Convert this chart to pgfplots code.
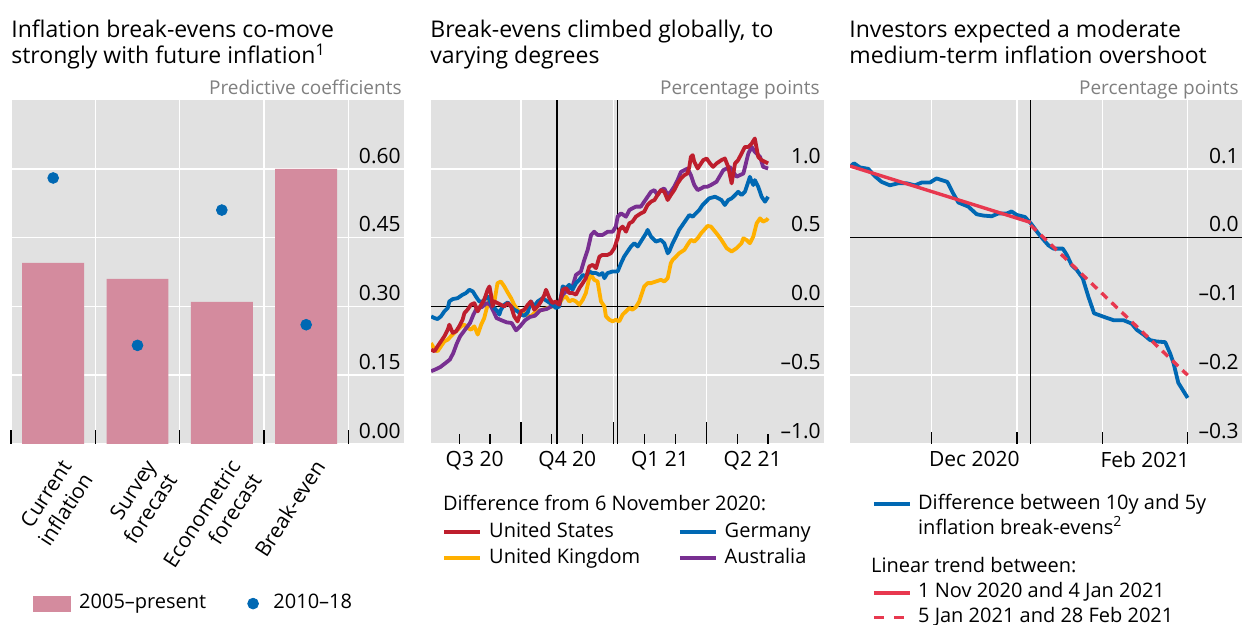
\documentclass[border=0pt]{standalone}
\usepackage{fontspec}
\setmainfont{Open Sans}
\usepackage{pgfplots}
\pgfplotsset{compat=1.18}

\definecolor{bggray}{HTML}{E1E1E1}
\definecolor{unitgray}{HTML}{808080}
\definecolor{barpink}{HTML}{D48B9E}
\definecolor{bisblue}{HTML}{0068B3}
\definecolor{bisred}{HTML}{BE1E2D}
\definecolor{bisyellow}{HTML}{FFB000}
\definecolor{bispurple}{HTML}{782F91}
\definecolor{trendred}{HTML}{E8384F}

\newcommand\titlefont{\fontsize{11.5}{13.8}\selectfont}
\newcommand\tickfont{\fontsize{10.5}{12.6}\selectfont}
\newcommand\legfont{\fontsize{10}{12}\selectfont}
\newcommand\unitfont{\fontsize{9.5}{11.4}\selectfont}

\pgfplotsset{
  panel/.style={
    scale only axis, height=172pt,
    anchor=north west,
    axis background/.style={fill=bggray},
    axis line style={draw=none},
    tick align=inside,
    xtick pos=bottom,
    yticklabel pos=right,
    ytick style={draw=none},
    tick style={black, line width=0.6pt},
    major grid style={white, line width=0.8pt},
    minor grid style={white, line width=0.8pt},
    ymajorgrids=true,
    yticklabel style={anchor=south east, inner sep=0pt, xshift=-1.5pt, yshift=2.5pt, font=\tickfont},
    xticklabel style={font=\tickfont},
    legend cell align=left,
    legend image code/.code={\draw[#1, line width=1.9pt] (0pt,0pt) -- (18pt,0pt);},
  },
}

\begin{document}
\begin{tikzpicture}
\useasboundingbox (0,0) rectangle (621.5pt,-312.5pt);

% titles
\node[anchor=base west, inner sep=0pt, font=\titlefont] at (5.5pt,-18.8pt) {Inflation break-evens co-move};
\node[anchor=base west, inner sep=0pt, font=\titlefont] at (5.5pt,-31.9pt) {strongly with future inflation\textsuperscript{1}};
\node[anchor=base west, inner sep=0pt, font=\titlefont] at (215pt,-18.8pt) {Break-evens climbed globally, to};
\node[anchor=base west, inner sep=0pt, font=\titlefont] at (215pt,-31.9pt) {varying degrees};
\node[anchor=base west, inner sep=0pt, font=\titlefont] at (424.5pt,-18.8pt) {Investors expected a moderate};
\node[anchor=base west, inner sep=0pt, font=\titlefont] at (424.5pt,-31.9pt) {medium-term inflation overshoot};
\node[anchor=base east, inner sep=0pt, font=\unitfont, text=unitgray] at (201pt,-47.5pt) {Predictive coefficients};
\node[anchor=base east, inner sep=0pt, font=\unitfont, text=unitgray] at (410pt,-47.5pt) {Percentage points};
\node[anchor=base east, inner sep=0pt, font=\unitfont, text=unitgray] at (619.5pt,-47.5pt) {Percentage points};

% panel 1
\begin{axis}[panel, at={(5.5pt,-50pt)}, width=196.5pt,
  xmin=-0.5, xmax=4.16, ymin=0, ymax=0.75,
  ytick={0,0.15,0.3,0.45,0.6}, yticklabels={0.00,0.15,0.30,0.45,0.60},
  xtick={0,1,2,3},
  xticklabels={Current\\inflation,Survey\\forecast,Econometric\\forecast,Break-even},
  major tick length=0pt, minor tick length=7pt,
  minor xtick={-0.5,0.5,1.5,2.5,3.5},
  xmajorgrids=false, xminorgrids=true,
  xticklabel style={rotate=57, anchor=north east, align=right, xshift=-0.5pt, yshift=-3pt},
  legend columns=2,
  legend style={draw=none, fill=none, inner sep=0pt, at={(0.056,-0.464)}, anchor=west,
    font=\legfont, nodes={inner sep=1.5pt, text height=7.5pt, text depth=2.5pt},
    /tikz/every odd column/.append style={column sep=2.5pt},
    /tikz/every even column/.append style={column sep=19pt}},
]
\addplot[ybar, bar width=0.735, fill=barpink, draw=none, forget plot] coordinates {(0,0.395)(1,0.36)(2,0.31)(3,0.60)};
\addplot[only marks, mark=*, mark size=2.7pt, color=bisblue, forget plot] coordinates {(0,0.58)(1,0.215)(2,0.51)(3,0.26)};
\addlegendimage{legend image code/.code={\fill[barpink] (0pt,-3.75pt) rectangle (18.5pt,3.75pt);}}
\addlegendentry{2005–present}
\addlegendimage{legend image code/.code={\fill[bisblue] (0pt,0pt) circle (2.7pt); \path (6pt,0pt);}}
\addlegendentry{2010–18}
\end{axis}

% panel 2
\begin{axis}[panel, at={(215.5pt,-50pt)}, width=196.5pt,
  xmin=0.087, xmax=12.81, ymin=-1, ymax=1.5,
  ytick={-1,-0.5,0,0.5,1}, yticklabels={–1.0,–0.5,0.0,0.5,1.0},
  xtick={3,6,9}, xticklabels={,,},
  major tick length=11pt, minor tick length=5pt,
  minor xtick={1,2,4,5,7,8,10,11},
  xmajorgrids=true,
  extra x ticks={1.5,4.5,7.5,10.5},
  extra x tick labels={Q3 20,Q4 20,Q1 21,Q2 21},
  extra x tick style={grid=none, major tick length=0pt},
  legend columns=2,
  legend style={draw=none, fill=none, inner sep=0pt, at={(0.028,-0.218)}, anchor=north west,
    font=\legfont, nodes={inner sep=1.5pt, text height=7.5pt, text depth=2.5pt},
    /tikz/every odd column/.append style={column sep=2pt},
    /tikz/every even column/.append style={column sep=17.3pt}},
]
\draw[black, line width=0.7pt] (axis cs:0.087,0) -- (axis cs:12.81,0);
\draw[black, line width=0.7pt] (axis cs:4.17,-1) -- (axis cs:4.17,1.5);
\draw[black, line width=0.7pt] (axis cs:6.13,-1) -- (axis cs:6.13,1.5);
% United Kingdom
\addplot[bisyellow, line width=1.9pt, line join=round, forget plot] coordinates {
(0.09,-0.266)(0.20,-0.314)(0.30,-0.326)(0.41,-0.290)(0.52,-0.254)(0.63,-0.242)(0.73,-0.217)(0.84,-0.193)
(0.95,-0.169)(1.06,-0.145)(1.17,-0.133)(1.27,-0.157)(1.38,-0.169)(1.49,-0.145)(1.60,-0.205)(1.71,-0.133)
(1.81,-0.085)(1.92,0.012)(2.03,0.072)(2.14,0.036)(2.24,0.169)(2.35,0.181)(2.46,0.145)(2.57,0.101)
(2.68,0.060)(2.78,0.012)(2.89,-0.024)(3.00,-0.043)(3.11,-0.048)(3.22,-0.068)(3.32,-0.072)(3.43,-0.048)
(3.54,-0.036)(3.70,-0.024)(3.86,-0.012)(4.02,0.000)(4.19,0.000)(4.35,0.060)(4.46,0.072)(4.56,0.036)
(4.67,0.048)(4.78,0.036)(4.89,0.012)(5.00,0.048)(5.10,0.097)(5.21,0.205)(5.27,0.229)(5.37,0.193)
(5.48,0.181)(5.59,0.036)(5.70,0.000)(5.75,-0.072)(5.86,-0.097)(5.97,-0.109)(6.07,-0.097)(6.18,-0.109)
(6.29,-0.060)(6.40,-0.036)(6.51,-0.012)(6.61,-0.024)(6.72,-0.005)(6.83,0.036)(6.88,0.072)(6.99,0.145)
(7.10,0.169)(7.21,0.169)(7.37,0.181)(7.53,0.193)(7.64,0.181)(7.75,0.205)(7.85,0.314)(7.91,0.338)
(8.02,0.362)(8.12,0.386)(8.29,0.411)(8.39,0.447)(8.50,0.483)(8.61,0.471)(8.72,0.495)(8.83,0.531)
(8.93,0.556)(9.04,0.585)(9.15,0.580)(9.33,0.531)(9.49,0.483)(9.66,0.423)(9.82,0.399)(9.98,0.423)
(10.14,0.459)(10.20,0.495)(10.30,0.483)(10.41,0.459)(10.52,0.507)(10.63,0.604)(10.74,0.640)(10.84,0.616)
(10.95,0.628)(11.00,0.640)};
% Australia
\addplot[bispurple, line width=1.9pt, line join=round, forget plot] coordinates {
(0.09,-0.471)(0.22,-0.459)(0.38,-0.442)(0.54,-0.415)(0.70,-0.386)(0.81,-0.338)(0.92,-0.271)(1.03,-0.217)
(1.19,-0.169)(1.35,-0.121)(1.46,-0.060)(1.57,-0.012)(1.73,-0.005)(1.89,0.024)(2.00,0.012)(2.11,-0.036)
(2.21,-0.085)(2.37,-0.101)(2.54,-0.116)(2.70,-0.121)(2.84,-0.174)(2.97,-0.145)(3.13,-0.101)(3.29,-0.077)
(3.45,-0.068)(3.62,-0.029)(3.83,-0.019)(4.03,0.005)(4.19,0.000)(4.35,0.085)(4.51,0.121)(4.67,0.145)
(4.78,0.229)(4.94,0.254)(5.05,0.338)(5.16,0.411)(5.27,0.519)(5.37,0.543)(5.48,0.519)(5.64,0.519)
(5.81,0.543)(5.97,0.543)(6.07,0.580)(6.13,0.652)(6.24,0.676)(6.40,0.652)(6.51,0.700)(6.61,0.713)
(6.72,0.725)(6.88,0.725)(6.99,0.761)(7.10,0.797)(7.21,0.833)(7.32,0.845)(7.42,0.809)(7.53,0.845)
(7.64,0.857)(7.75,0.809)(7.85,0.833)(7.96,0.870)(8.07,0.918)(8.18,0.978)(8.29,0.990)(8.39,1.002)
(8.50,0.954)(8.61,0.882)(8.72,0.845)(8.83,0.857)(8.93,0.870)(9.04,0.870)(9.15,0.882)(9.33,0.906)
(9.55,0.990)(9.76,1.014)(9.98,0.942)(10.20,0.966)(10.36,1.111)(10.47,1.159)(10.57,1.123)(10.74,1.087)
(10.84,1.014)(11.00,1.002)};
% Germany
\addplot[bisblue, line width=1.9pt, line join=round, forget plot] coordinates {
(0.09,-0.072)(0.20,-0.085)(0.30,-0.092)(0.41,-0.072)(0.52,-0.036)(0.63,-0.012)(0.68,0.036)(0.79,0.053)
(0.95,0.060)(1.11,0.085)(1.22,0.097)(1.33,0.121)(1.44,0.109)(1.54,0.072)(1.65,0.036)(1.76,0.036)
(1.87,0.060)(1.92,0.072)(2.03,0.024)(2.14,-0.012)(2.24,-0.036)(2.30,-0.060)(2.35,-0.024)(2.46,0.012)
(2.57,0.029)(2.68,0.000)(2.78,-0.024)(2.89,-0.036)(3.00,-0.060)(3.11,-0.068)(3.22,-0.043)(3.32,0.036)
(3.43,0.000)(3.54,0.036)(3.70,0.060)(3.86,0.036)(4.02,0.012)(4.13,-0.012)(4.24,0.000)(4.35,0.145)
(4.46,0.133)(4.56,0.157)(4.67,0.121)(4.78,0.169)(4.89,0.193)(5.00,0.229)(5.10,0.217)(5.21,0.254)
(5.32,0.242)(5.43,0.242)(5.54,0.229)(5.64,0.242)(5.70,0.205)(5.80,0.242)(5.97,0.254)(6.13,0.254)
(6.24,0.314)(6.34,0.362)(6.45,0.399)(6.56,0.435)(6.67,0.459)(6.78,0.435)(6.88,0.471)(7.05,0.531)
(7.10,0.556)(7.21,0.507)(7.37,0.471)(7.53,0.483)(7.64,0.459)(7.75,0.386)(7.80,0.399)(7.91,0.459)
(8.02,0.507)(8.12,0.556)(8.23,0.592)(8.34,0.628)(8.45,0.664)(8.56,0.652)(8.66,0.676)(8.77,0.700)
(8.88,0.737)(8.99,0.761)(9.09,0.785)(9.28,0.797)(9.39,0.785)(9.49,0.773)(9.60,0.737)(9.71,0.773)
(9.82,0.785)(9.93,0.809)(10.03,0.833)(10.14,0.809)(10.25,0.833)(10.36,0.906)(10.41,0.942)(10.47,0.906)
(10.52,0.882)(10.57,0.918)(10.68,0.870)(10.79,0.797)(10.90,0.761)(11.00,0.797)};
% United States
\addplot[bisred, line width=1.9pt, line join=round, forget plot] coordinates {
(0.09,-0.314)(0.20,-0.326)(0.30,-0.290)(0.41,-0.254)(0.52,-0.217)(0.63,-0.169)(0.68,-0.133)(0.79,-0.193)
(0.90,-0.181)(1.00,-0.145)(1.11,-0.097)(1.17,-0.048)(1.27,-0.024)(1.38,0.012)(1.49,0.024)(1.60,-0.036)
(1.71,0.012)(1.81,0.048)(1.92,0.121)(1.98,0.145)(2.03,0.085)(2.08,0.000)(2.14,0.036)(2.24,0.024)
(2.35,0.012)(2.46,0.000)(2.57,0.024)(2.68,0.000)(2.78,-0.072)(2.89,-0.109)(3.00,-0.036)(3.11,-0.024)
(3.22,0.012)(3.32,0.036)(3.43,-0.024)(3.54,0.000)(3.65,0.036)(3.76,0.085)(3.81,0.121)(3.92,0.060)
(4.02,0.024)(4.13,0.036)(4.24,0.012)(4.35,0.121)(4.46,0.133)(4.56,0.097)(4.67,0.097)(4.78,0.085)
(4.89,0.133)(5.00,0.169)(5.10,0.205)(5.21,0.290)(5.32,0.302)(5.43,0.278)(5.54,0.362)(5.64,0.374)
(5.80,0.374)(5.91,0.386)(6.02,0.423)(6.13,0.495)(6.18,0.556)(6.29,0.580)(6.40,0.543)(6.51,0.604)
(6.61,0.616)(6.72,0.652)(6.88,0.676)(6.99,0.688)(7.10,0.737)(7.21,0.761)(7.32,0.773)(7.42,0.809)
(7.53,0.845)(7.64,0.833)(7.75,0.773)(7.85,0.809)(7.96,0.845)(8.07,0.894)(8.18,0.930)(8.29,0.954)
(8.39,0.966)(8.45,1.014)(8.50,1.087)(8.56,1.099)(8.61,1.051)(8.72,1.002)(8.83,1.039)(8.90,1.063)
(9.01,1.075)(9.12,1.039)(9.22,1.014)(9.33,1.039)(9.49,1.063)(9.60,1.075)(9.71,1.014)(9.82,0.894)
(9.93,1.039)(10.03,1.063)(10.14,1.111)(10.25,1.159)(10.36,1.159)(10.47,1.184)(10.57,1.220)(10.68,1.087)
(10.79,1.063)(10.90,1.051)(11.00,1.039)};
\addlegendimage{bisred}\addlegendentry{United States}
\addlegendimage{bisblue}\addlegendentry{Germany}
\addlegendimage{bisyellow}\addlegendentry{United Kingdom}
\addlegendimage{bispurple}\addlegendentry{Australia}
\end{axis}
\node[anchor=west, inner sep=0pt, font=\legfont] at (221.3pt,-251.5pt) {Difference from 6 November 2020:};

% panel 3
\begin{axis}[panel, at={(425pt,-50pt)}, width=196pt,
  xmin=1.3, xmax=139.1, ymin=-0.3, ymax=0.2,
  ytick={-0.3,-0.2,-0.1,0,0.1}, yticklabels={–0.3,–0.2,–0.1,0.0,0.1},
  xtick={30,60,90,120}, xticklabels={,,,},
  major tick length=6pt,
  xmajorgrids=true,
  extra x ticks={45,105},
  extra x tick labels={Dec 2020,Feb 2021},
  extra x tick style={grid=none, major tick length=0pt},
  legend style={draw=none, fill=none, inner sep=0pt, at={(0.055,-0.138)}, anchor=north west,
    font=\legfont, nodes={inner sep=1.2pt, text height=7.5pt, text depth=2.5pt},
    /tikz/every odd column/.append style={column sep=2pt}},
]
\draw[black, line width=0.7pt] (axis cs:1.3,0) -- (axis cs:139.1,0);
\draw[black, line width=0.7pt] (axis cs:64.8,-0.3) -- (axis cs:64.8,0.2);
\addplot[bisblue, line width=1.9pt, line join=round, forget plot] coordinates {
(1.3,0.103)(2.7,0.108)(4.8,0.102)(7.7,0.100)(10.1,0.089)(12.4,0.081)(15.3,0.076)(18.3,0.079)
(21.2,0.079)(24.1,0.076)(26.5,0.080)(29.4,0.080)(31.7,0.086)(35.5,0.081)(37.6,0.064)(39.4,0.051)
(42.9,0.045)(45.8,0.034)(48.2,0.032)(51.1,0.031)(53.4,0.035)(56.4,0.035)(58.1,0.038)(59.9,0.033)
(62.8,0.030)(64.8,0.021)(67.5,0.006)(69.3,-0.003)(71.0,-0.011)(72.8,-0.016)(76.1,-0.016)(77.5,-0.025)
(79.2,-0.040)(81.0,-0.047)(83.1,-0.059)(85.1,-0.086)(87.1,-0.110)(90.4,-0.115)(93.9,-0.120)(97.4,-0.120)
(100.3,-0.125)(102.1,-0.134)(104.5,-0.141)(106.8,-0.149)(109.1,-0.151)(112.1,-0.152)(113.8,-0.168)(115.0,-0.182)
(116.7,-0.211)(118.5,-0.223)(120.0,-0.233)};
\addplot[trendred, line width=1.7pt, forget plot] coordinates {(1.3,0.104)(64.8,0.022)};
\addplot[trendred, line width=1.7pt, dash pattern=on 4pt off 3pt, forget plot] coordinates {(64.8,0.018)(120,-0.200)};
\addlegendimage{bisblue}\addlegendentry{Difference between 10y and 5y}
\addlegendimage{empty legend}\addlegendentry{inflation break-evens\textsuperscript{2}}
\addlegendimage{empty legend}\addlegendentry[text height=14.5pt]{\hspace*{-23.5pt}Linear trend between:}
\addlegendimage{trendred}\addlegendentry{1 Nov 2020 and 4 Jan 2021}
\addlegendimage{trendred, dash pattern=on 5pt off 5pt}\addlegendentry{5 Jan 2021 and 28 Feb 2021}
\end{axis}
\end{tikzpicture}
\end{document}
